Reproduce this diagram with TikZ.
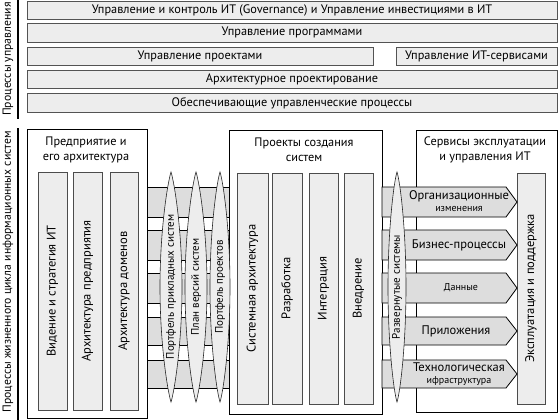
\documentclass[tikz,border=0pt]{standalone}
\usepackage{fontspec}
\setmainfont{PT Sans}
\tikzset{
  mgmt/.style={draw=gray!65!black, fill=gray!14, line width=0.8pt, inner sep=0pt, outer sep=0pt, font=\fontsize{12.3}{13}\selectfont},
  stage/.style={draw=black, fill=white, line width=1pt},
  stagetitle/.style={align=center, inner sep=0pt, font=\fontsize{12.3}{15.5}\selectfont},
  column/.style={draw=gray!60!black, fill=gray!14, line width=0.6pt, inner sep=0pt, outer sep=0pt, rotate=90, font=\fontsize{12.5}{13}\selectfont},
  band/.style={draw=black, fill=gray!27, line width=0.8pt},
  lens/.style={draw=gray!30!black, fill=gray!14, line width=0.6pt},
  lenstext/.style={rotate=90, inner sep=0pt, font=\fontsize{11}{11}\selectfont},
  sidelabel/.style={rotate=90, inner sep=0pt, font=\fontsize{11.7}{12}\selectfont},
  arrowtext/.style={align=center, inner sep=0pt, font=\fontsize{12.5}{12.5}\selectfont}
}
\begin{document}
\begin{tikzpicture}[x=1pt,y=-1pt]
   \useasboundingbox (0,0) rectangle (560,420);
   % management processes
   \draw[line width=1.2pt] (18,0) -- (18,119);
   \node[sidelabel] (mgmtlabel) at (8,59) {Процессы управления};
   \node[mgmt, minimum width=530pt, minimum height=18pt] (gov) at (292,10) {Управление и контроль ИТ (Governance) и Управление инвестициями в ИТ};
   \node[mgmt, minimum width=530pt, minimum height=19pt] (programs) at (292,32.5) {Управление программами};
   \node[mgmt, minimum width=346pt, minimum height=18pt] (projects) at (200,56) {Управление проектами};
   \node[mgmt, minimum width=161pt, minimum height=18pt] (services) at (476.5,56) {Управление ИТ-сервисами};
   \node[mgmt, minimum width=530pt, minimum height=18pt] (archdesign) at (292,79) {Архитектурное проектирование};
   \node[mgmt, minimum width=530pt, minimum height=19pt] (support) at (292,103) {Обеспечивающие управленческие процессы};

   % life cycle processes
   \draw[line width=1.2pt] (18,128) -- (18,420);
   \node[sidelabel] (lifelabel) at (8,272) {Процессы жизненного цикла информационных систем};

   \draw[stage] (27,129) rectangle (147,418);
   \draw[stage] (229,130) rectangle (382,414);
   \draw[stage] (416,130) rectangle (557,412);
   \node[stagetitle] (enterprise) at (86,150) {Предприятие и\\его архитектура};
   \node[stagetitle] (projectsys) at (304,150) {Проекты создания\\систем};
   \node[stagetitle] (operation) at (485,150) {Сервисы эксплуатации\\и управления ИТ};

   \node[column, minimum width=238pt, minimum height=29pt] (vision) at (52.5,291) {Видение и стратегия ИТ};
   \node[column, minimum width=238pt, minimum height=29pt] (entarch) at (87.5,291) {Архитектура предприятия};
   \node[column, minimum width=238pt, minimum height=28pt] (domarch) at (124,291) {Архитектура доменов};

   \node[column, minimum width=231pt, minimum height=31pt] (sysarch) at (252.5,288.5) {Системная архитектура};
   \node[column, minimum width=231pt, minimum height=30pt] (develop) at (287,288.5) {Разработка};
   \node[column, minimum width=231pt, minimum height=29pt] (integr) at (323.5,288.5) {Интеграция};
   \node[column, minimum width=231pt, minimum height=29pt] (deploy) at (358.5,288.5) {Внедрение};
   \node[column, minimum width=231pt, minimum height=28pt] (opsupport) at (531,288.5) {Эксплуатация и поддержка};

   % bands and arrows
   \foreach \t/\b in {187/217, 230/260, 273/303, 317/345, 360/388} {
      \draw[band] (147,\t) rectangle (229,\b);
      \draw[band] (382,\t) -- (506,\t) -- (517,{(\t+\b)/2}) -- (506,\b) -- (382,\b) -- cycle;
   }

   % lenses
   \foreach \lx/\hw/\ltxt [count=\i] in {171/11/Портфель прикладных систем, 196/11/План версий систем, 220/10/Портфель проектов, 397/9/Развернутые системы} {
      \draw[lens] (\lx,172) .. controls ({\lx+3},181) and ({\lx+\hw},228) .. ({\lx+\hw},287)
         .. controls ({\lx+\hw},346) and ({\lx+3},393) .. (\lx,402)
         .. controls ({\lx-3},393) and ({\lx-\hw},346) .. ({\lx-\hw},287)
         .. controls ({\lx-\hw},228) and ({\lx-3},181) .. (\lx,172) -- cycle;
      \node[lenstext] (lens\i) at (\lx,287) {\ltxt};
   }

   \node[arrowtext] (orgchange) at (459,201) {Организационные\\{\fontsize{10}{10}\selectfont изменения}};
   \node[arrowtext] (bizproc) at (459,245) {Бизнес-процессы};
   \node[arrowtext, font=\fontsize{10}{10}\selectfont] (data) at (461,288) {Данные};
   \node[arrowtext] (apps) at (456,331) {Приложения};
   \node[arrowtext] (techinfra) at (459,374) {Технологическая\\{\fontsize{10}{10}\selectfont ифраструктура}};
\end{tikzpicture}
\end{document}
